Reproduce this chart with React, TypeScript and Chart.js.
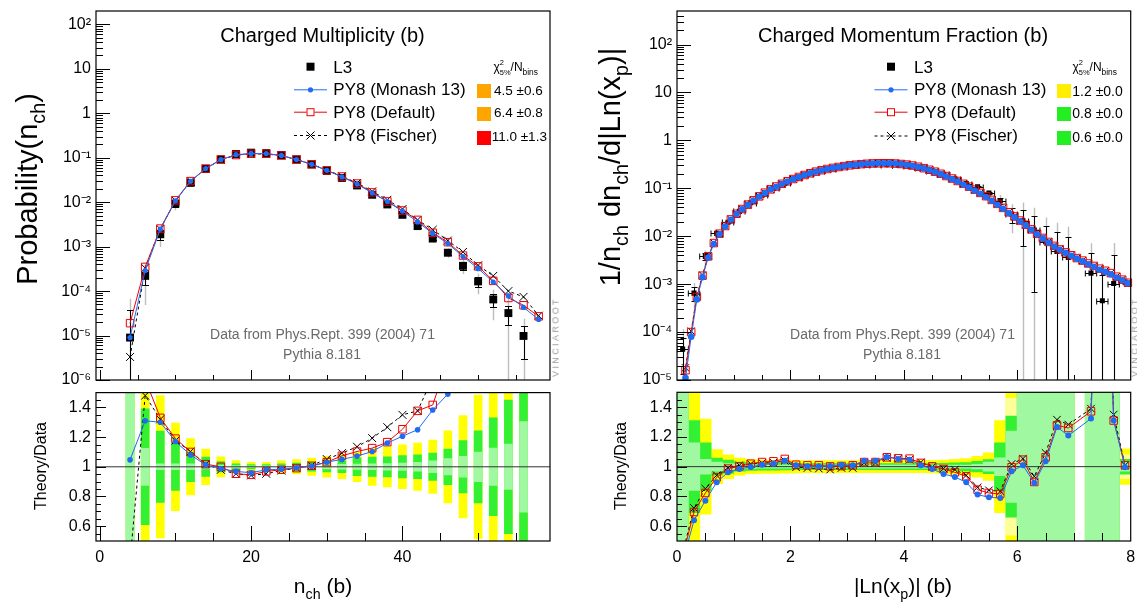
import React, { useEffect, useRef } from 'react';
import { Chart, registerables } from 'chart.js';

Chart.register(...registerables);

const FONT = '"Liberation Sans", Arial, Helvetica, sans-serif';
const BLUE = '#1f6cf2';
const RED = '#f00000';
const YELLOW = '#ffff00';
const GREEN = '#33f033';
const LGREEN = '#a0f8a0';
const LYELLOW = '#ffff9a';
const GREYERR = '#bdbdbd';

// ---------------- Left panel: charged multiplicity ----------------
const multNch = [4, 6, 8, 10, 12, 14, 16, 18, 20, 22, 24, 26, 28, 30, 32, 34, 36, 38, 40, 42, 44, 46, 48, 50, 52, 54, 56];
const l3Mult = [9.0e-6, 2.2e-4, 1.9e-3, 9.3e-3, 0.0272, 0.056, 0.0915, 0.121, 0.13, 0.127, 0.115, 0.0917, 0.0707, 0.0505, 0.0352, 0.0238, 0.0147, 0.0089, 0.0052, 0.0029, 0.00152, 7.3e-4, 3.7e-4, 1.65e-4, 6.5e-5, 3.2e-5, 9.8e-6];
const l3MultErr1 = [3.2, 0.39, 0.24, 0.16, 0.1, 0.065, 0.035, 0.02, 0.015, 0.015, 0.02, 0.025, 0.03, 0.035, 0.04, 0.06, 0.065, 0.068, 0.075, 0.08, 0.092, 0.12, 0.176, 0.243, 0.33, 0.45, 0.7];
const l3MultErr2 = [6.5, 0.78, 0.48, 0.295, 0.19, 0.12, 0.068, 0.042, 0.03, 0.03, 0.04, 0.048, 0.058, 0.07, 0.08, 0.1, 0.125, 0.135, 0.148, 0.16, 0.18, 0.243, 0.345, 0.484, 0.66, 1.2, 1.45];
const l3MultStat = [1.0, 0.125, 0.02, 0.02, 0.02, 0.015, 0.01, 0.008, 0.006, 0.006, 0.008, 0.01, 0.012, 0.014, 0.016, 0.018, 0.02, 0.022, 0.025, 0.03, 0.04, 0.055, 0.07, 0.1, 0.126, 0.153, 0.305];

const multNchMC = [4, 6, 8, 10, 12, 14, 16, 18, 20, 22, 24, 26, 28, 30, 32, 34, 36, 38, 40, 42, 44, 46, 48, 50, 52, 54, 56, 58];
const monashMult = [9.0e-6, 2.9e-4, 2.47e-3, 0.0107, 0.0294, 0.057, 0.0903, 0.117, 0.125, 0.124, 0.113, 0.091, 0.071, 0.052, 0.037, 0.0255, 0.0162, 0.0103, 0.0063, 0.0036, 0.00198, 0.00117, 6.0e-4, 3.2e-4, 1.6e-4, 7.8e-5, 4.3e-5, 2.3e-5];
const defaultMult = [1.9e-5, 3.5e-4, 2.55e-3, 0.011, 0.0298, 0.057, 0.0915, 0.115, 0.123, 0.123, 0.112, 0.0908, 0.0712, 0.0521, 0.0378, 0.0263, 0.0166, 0.0104, 0.0065, 0.004, 0.00205, 0.00126, 6.3e-4, 3.6e-4, 1.7e-4, 7.0e-5, 4.8e-5, 2.7e-5];
const fischerMult = [3.3e-6, 3.3e-4, 2.5e-3, 0.0109, 0.03, 0.057, 0.0895, 0.115, 0.1225, 0.121, 0.112, 0.0908, 0.0714, 0.0531, 0.0385, 0.027, 0.0175, 0.0113, 0.007, 0.004, 0.0024, 1.37e-3, 7.6e-4, 3.8e-4, 2.2e-4, 1.0e-4, 7.4e-5, 2.8e-5];

const monashMultRatio = [1.047, 1.31, 1.3, 1.17, 1.08, 1.013, 0.987, 0.969, 0.96, 0.98, 0.984, 0.993, 1.004, 1.031, 1.05, 1.072, 1.103, 1.16, 1.206, 1.25, 1.383, 1.49, 1.62, 1.94, 2.46, 2.44, 4.4];
const defaultMultRatio = [2.1, 1.59, 1.33, 1.19, 1.1, 1.018, 1.0, 0.953, 0.946, 0.969, 0.98, 0.991, 1.007, 1.031, 1.074, 1.103, 1.126, 1.166, 1.253, 1.377, 1.417, 1.72, 1.7, 2.2, 2.6, 2.2, 4.9];
const fischerMultRatio = [0.37, 1.48, 1.32, 1.177, 1.103, 1.018, 0.98, 0.953, 0.942, 0.953, 0.975, 0.991, 1.009, 1.052, 1.092, 1.135, 1.193, 1.267, 1.35, 1.377, 1.6, 1.88, 2.05, 2.3, 3.4, 3.1, 7.5];

const multXRange = [-0.5, 59.5];
const multXTicks = [0, 20, 40];
const multXTickLabels = ['0', '20', '40'];
const multXMinor = [5, 10, 15, 25, 30, 35, 45, 50, 55];
const multYTicks = [1e-6, 1e-5, 1e-4, 1e-3, 1e-2, 1e-1, 1, 10, 100];
const multYTickLabels = ['10⁻⁶', '10⁻⁵', '10⁻⁴', '10⁻³', '10⁻²', '10⁻¹', '1', '10', '10²'];

// ---------------- Right panel: charged momentum fraction ----------------
const xpMC = [0.05, 0.15, 0.25, 0.35, 0.45, 0.55, 0.65, 0.75, 0.85, 0.95, 1.05, 1.15, 1.25, 1.35, 1.45, 1.55, 1.65, 1.75, 1.85, 1.95, 2.05, 2.15, 2.25, 2.35, 2.45, 2.55, 2.65, 2.75, 2.85, 2.95, 3.05, 3.15, 3.25, 3.35, 3.45, 3.55, 3.65, 3.75, 3.85, 3.95, 4.05, 4.15, 4.25, 4.35, 4.45, 4.55, 4.65, 4.75, 4.85, 4.95, 5.05, 5.15, 5.25, 5.35, 5.45, 5.55, 5.65, 5.75, 5.85, 5.95, 6.05, 6.15, 6.25, 6.35, 6.45, 6.55, 6.65, 6.75, 6.85, 6.95, 7.05, 7.15, 7.25, 7.35, 7.45, 7.55, 7.65, 7.75, 7.85, 7.95];
const monashXp = [1.5e-6, 1.1e-5, 8.0e-5, 4.8e-4, 1.4e-3, 3.6e-3, 6.9e-3, 0.011, 0.016, 0.022, 0.029, 0.0365, 0.045, 0.0555, 0.067, 0.08, 0.094, 0.108, 0.123, 0.139, 0.155, 0.172, 0.189, 0.205, 0.222, 0.238, 0.252, 0.266, 0.279, 0.291, 0.302, 0.311, 0.319, 0.325, 0.33, 0.332, 0.333, 0.332, 0.328, 0.32, 0.31, 0.296, 0.279, 0.26, 0.24, 0.218, 0.197, 0.176, 0.156, 0.138, 0.12, 0.104, 0.09, 0.077, 0.066, 0.055, 0.0455, 0.0375, 0.0305, 0.025, 0.0205, 0.0168, 0.0136, 0.011, 0.009, 0.0074, 0.0061, 0.0052, 0.0045, 0.0039, 0.0034, 0.003, 0.0026, 0.0023, 0.002, 0.0018, 0.0016, 0.00138, 0.0012, 0.00104];
const defaultXp = [3e-6, 1.6e-5, 1.0e-4, 5.4e-4, 1.5e-3, 3.8e-3, 7.2e-3, 0.0113, 0.0163, 0.0224, 0.0294, 0.0369, 0.0456, 0.0562, 0.0678, 0.081, 0.095, 0.109, 0.124, 0.14, 0.156, 0.1725, 0.1895, 0.2055, 0.2225, 0.2385, 0.2525, 0.266, 0.2785, 0.2905, 0.3015, 0.3105, 0.3185, 0.3245, 0.3295, 0.3318, 0.333, 0.3322, 0.3285, 0.321, 0.3115, 0.298, 0.2815, 0.263, 0.2435, 0.222, 0.201, 0.18, 0.16, 0.142, 0.124, 0.108, 0.0935, 0.08, 0.0685, 0.0572, 0.0473, 0.039, 0.0316, 0.0258, 0.0212, 0.0173, 0.0139, 0.0112, 0.0092, 0.0076, 0.0063, 0.0053, 0.0046, 0.004, 0.0035, 0.0031, 0.0027, 0.0024, 0.0021, 0.0019, 0.0017, 0.00143, 0.00124, 0.00107];
const fischerXp = [3.5e-6, 1.8e-5, 1.05e-4, 5.6e-4, 1.55e-3, 3.9e-3, 7.3e-3, 0.0114, 0.0164, 0.0225, 0.0295, 0.0369, 0.0455, 0.056, 0.0676, 0.0806, 0.0945, 0.1085, 0.1232, 0.1385, 0.1545, 0.1712, 0.188, 0.204, 0.2208, 0.2368, 0.251, 0.2648, 0.2776, 0.2896, 0.3006, 0.3098, 0.318, 0.3242, 0.3293, 0.3316, 0.3328, 0.332, 0.3282, 0.3208, 0.3113, 0.298, 0.2815, 0.2632, 0.2437, 0.2222, 0.2014, 0.1806, 0.1608, 0.1428, 0.125, 0.1088, 0.0942, 0.0806, 0.069, 0.0576, 0.0476, 0.0392, 0.0318, 0.026, 0.0213, 0.0174, 0.014, 0.0113, 0.0093, 0.0077, 0.0064, 0.0054, 0.0046, 0.004, 0.0035, 0.0031, 0.0027, 0.0024, 0.0021, 0.0019, 0.0017, 0.00144, 0.00125, 0.00108];

const xpData = [0.1, 0.3, 0.5, 0.7, 0.9, 1.1, 1.3, 1.5, 1.7, 1.9, 2.1, 2.3, 2.5, 2.7, 2.9, 3.1, 3.3, 3.5, 3.7, 3.9, 4.1, 4.3, 4.5, 4.7, 4.9, 5.1, 5.3, 5.5, 5.7, 5.9, 6.1, 6.3, 6.5, 6.7, 6.9, 7.3, 7.5, 7.7, 7.9];
const l3Xp = [4.4e-5, 6.5e-4, 3.8e-3, 0.0115, 0.0195, 0.033, 0.05, 0.072, 0.099, 0.126, 0.162, 0.197, 0.23, 0.258, 0.281, 0.304, 0.311, 0.318, 0.313, 0.308, 0.289, 0.266, 0.231, 0.195, 0.157, 0.125, 0.108, 0.08, 0.055, 0.029, 0.021, 0.0135, 0.0077, 0.0048, 0.0036, 0.0017, 4.5e-4, 1.03e-3, 0.0011];
const l3XpErr1 = [0.7, 0.31, 0.16, 0.058, 0.045, 0.03, 0.025, 0.023, 0.023, 0.022, 0.021, 0.02, 0.02, 0.02, 0.02, 0.02, 0.02, 0.02, 0.02, 0.02, 0.02, 0.02, 0.021, 0.023, 0.025, 0.028, 0.035, 0.047, 0.16, 0.34, 0.7, 0.95, 1.1, 1.5, 1.7, 1.6, 2.5, 3.0, 0.05];
const l3XpErr2 = [1.6, 0.62, 0.32, 0.115, 0.08, 0.058, 0.048, 0.045, 0.045, 0.044, 0.042, 0.04, 0.04, 0.04, 0.04, 0.04, 0.04, 0.04, 0.04, 0.04, 0.04, 0.04, 0.042, 0.045, 0.05, 0.055, 0.07, 0.093, 0.31, 0.6, 1.4, 1.9, 2.2, 3.0, 3.4, 3.2, 5.0, 6.0, 0.12];
const l3XpStat = [0.6, 0.16, 0.05, 0.03, 0.02, 0.015, 0.012, 0.01, 0.01, 0.01, 0.01, 0.01, 0.01, 0.01, 0.01, 0.01, 0.01, 0.01, 0.01, 0.01, 0.01, 0.01, 0.01, 0.01, 0.01, 0.01, 0.015, 0.03, 0.06, 0.24, 0.6, 0.7, 0.8, 1.0, 1.1, 1.0, 1.5, 2.0, 0.03];
const l3XpStat2 = [0, 0, 0, 0, 0, 0, 0, 0, 0, 0, 0, 0, 0, 0, 0, 0, 0, 0, 0, 0, 0, 0, 0, 0, 0, 0, 0, 0, 0, 0.46, 0, 0, 0, 0, 0, 0, 0, 0, 0.08];

const monashXpRatio = [0.36, 0.639, 0.771, 0.895, 0.962, 0.984, 0.998, 1.013, 1.022, 1.04, 1.009, 1.002, 1.002, 1.004, 1.013, 1.009, 1.04, 1.04, 1.065, 1.052, 1.047, 1.009, 0.984, 0.951, 0.93, 0.895, 0.812, 0.794, 0.789, 0.969, 1.009, 0.89, 1.036, 1.267, 1.209, 1.323, 3.5, 1.31, 0.996];
const defaultXpRatio = [0.4, 0.695, 0.823, 0.928, 0.987, 1.002, 1.02, 1.031, 1.036, 1.052, 1.013, 1.009, 1.009, 1.002, 1.004, 1.009, 1.031, 1.031, 1.063, 1.056, 1.054, 1.025, 1.002, 0.984, 0.962, 0.935, 0.845, 0.823, 0.816, 0.996, 1.047, 0.897, 1.063, 1.278, 1.26, 1.372, 3.6, 1.31, 1.009];
const fischerXpRatio = [0.42, 0.722, 0.852, 0.942, 0.991, 1.009, 1.018, 1.025, 1.027, 1.04, 0.996, 0.991, 0.987, 0.98, 0.991, 0.991, 1.025, 1.025, 1.058, 1.054, 1.047, 1.029, 0.998, 0.987, 0.98, 0.942, 0.861, 0.841, 0.834, 1.018, 1.054, 0.935, 1.092, 1.316, 1.283, 1.39, 3.6, 1.35, 1.009];

const xpXRange = [0, 8];
const xpXTicks = [0, 2, 4, 6, 8];
const xpXTickLabels = ['0', '2', '4', '6', '8'];
const xpXMajorMarks = [2, 4, 6];
const xpXMinor = [0.5, 1, 1.5, 2.5, 3, 3.5, 4.5, 5, 5.5, 6.5, 7, 7.5];
const xpYTicks = [1e-5, 1e-4, 1e-3, 1e-2, 1e-1, 1, 10, 100];
const xpYTickLabels = ['10⁻⁵', '10⁻⁴', '10⁻³', '10⁻²', '10⁻¹', '1', '10', '10²'];

const ratioYTicks = [0.6, 0.8, 1, 1.2, 1.4];
const ratioYTickLabels = ['0.6', '0.8', '1', '1.2', '1.4'];
const ratioYMinor = [0.55, 0.65, 0.7, 0.75, 0.85, 0.9, 0.95, 1.05, 1.1, 1.15, 1.25, 1.3, 1.35, 1.45];
const unity = [1, 1];

// ---------------- helpers ----------------
const pts = (xs: number[], ys: number[]) => xs.map((x, i) => ({ x, y: ys[i] }));
const logMinor = (lo: number, hi: number) => {
  const out: number[] = [];
  for (let e = Math.floor(Math.log10(lo)); e <= Math.ceil(Math.log10(hi)); e++) {
    for (let k = 2; k <= 9; k++) {
      const v = k * Math.pow(10, e);
      if (v > lo && v < hi) out.push(v);
    }
  }
  return out;
};

const framePlugin = {
  id: 'rootFrame',
  afterDraw(chart: any, _a: any, o: any) {
    if (!o || !o.on) return;
    const { ctx, chartArea: a } = chart;
    const xs = chart.scales.x;
    const ys = chart.scales.y;
    ctx.save();
    ctx.strokeStyle = '#000';
    ctx.lineWidth = 1;
    ctx.beginPath();
    const hy = (v: number) => Math.round(ys.getPixelForValue(v)) + 0.5;
    const vx = (v: number) => Math.round(xs.getPixelForValue(v)) + 0.5;
    (o.yMajor || []).forEach((v: number) => { const y = hy(v); ctx.moveTo(a.left, y); ctx.lineTo(a.left + o.yMajorLen, y); });
    (o.yMinor || []).forEach((v: number) => { const y = hy(v); ctx.moveTo(a.left, y); ctx.lineTo(a.left + o.yMinorLen, y); });
    (o.xMajor || []).forEach((v: number) => { const x = vx(v); ctx.moveTo(x, a.bottom); ctx.lineTo(x, a.bottom - o.xMajorLen); });
    (o.xMinor || []).forEach((v: number) => { const x = vx(v); ctx.moveTo(x, a.bottom); ctx.lineTo(x, a.bottom - o.xMinorLen); });
    ctx.stroke();
    ctx.lineWidth = 1.2;
    ctx.strokeRect(a.left, a.top, a.right - a.left, a.bottom - a.top);
    ctx.restore();
  },
};

const errorPlugin = {
  id: 'rootErrors',
  beforeDatasetsDraw(chart: any, _a: any, o: any) {
    if (!o || !o.xs) return;
    const { ctx, chartArea: a } = chart;
    const xS = chart.scales.x;
    const yS = chart.scales.y;
    const bottom = a.bottom + 2;
    const py = (v: number) => (v > 0 ? Math.min(yS.getPixelForValue(v), bottom) : bottom);
    ctx.save();
    ctx.beginPath();
    ctx.rect(a.left, a.top, a.right - a.left, a.bottom - a.top);
    ctx.clip();
    ctx.strokeStyle = GREYERR;
    ctx.lineWidth = 1.4;
    ctx.beginPath();
    o.xs.forEach((xv: number, i: number) => {
      const v = o.ys[i];
      const e = v * o.err2[i];
      const px = Math.round(xS.getPixelForValue(xv)) + 0.5;
      ctx.moveTo(px, py(v + e));
      ctx.lineTo(px, py(v - e));
    });
    ctx.stroke();
    ctx.strokeStyle = '#000';
    ctx.lineWidth = 1;
    ctx.beginPath();
    o.xs.forEach((xv: number, i: number) => {
      const v = o.ys[i];
      const e = v * o.err1[i];
      const px = Math.round(xS.getPixelForValue(xv)) + 0.5;
      const yt = Math.round(py(v + e)) + 0.5;
      const yb = Math.round(py(v - e)) + 0.5;
      ctx.moveTo(px, yt);
      ctx.lineTo(px, yb);
      ctx.moveTo(px - o.cap, yt);
      ctx.lineTo(px + o.cap, yt);
      if (v - e > 0) { ctx.moveTo(px - o.cap, yb); ctx.lineTo(px + o.cap, yb); }
      if (o.xHalf) {
        const yc = Math.round(yS.getPixelForValue(v)) + 0.5;
        const xl = xS.getPixelForValue(xv - o.xHalf);
        const xr = xS.getPixelForValue(xv + o.xHalf);
        ctx.moveTo(xl, yc); ctx.lineTo(xr, yc);
        ctx.moveTo(xl, yc - 3); ctx.lineTo(xl, yc + 3);
        ctx.moveTo(xr, yc - 3); ctx.lineTo(xr, yc + 3);
      }
    });
    ctx.stroke();
    ctx.restore();
  },
};

const legendPlugin = {
  id: 'rootLegend',
  afterDatasetsDraw(chart: any, _a: any, o: any) {
    if (!o || o.cx === undefined) return;
    const ctx = chart.ctx;
    const cx = o.cx - o.offX;
    const [r0, r1, r2, r3] = o.rows;
    const x0 = cx - 16.5;
    const x1 = cx + 16.5;
    ctx.save();
    ctx.fillStyle = '#000';
    ctx.fillRect(cx - 4, r0 - 4, 8, 8);
    ctx.lineWidth = 1;
    ctx.strokeStyle = BLUE;
    ctx.beginPath(); ctx.moveTo(x0, r1 + 0.5); ctx.lineTo(x1, r1 + 0.5); ctx.stroke();
    ctx.fillStyle = BLUE;
    ctx.beginPath(); ctx.arc(cx, r1 + 0.5, 2.6, 0, Math.PI * 2); ctx.fill();
    ctx.strokeStyle = RED;
    ctx.beginPath(); ctx.moveTo(x0, r2 + 0.5); ctx.lineTo(cx - 4, r2 + 0.5); ctx.moveTo(cx + 4, r2 + 0.5); ctx.lineTo(x1, r2 + 0.5); ctx.stroke();
    ctx.strokeRect(cx - 3.5, r2 - 3, 7, 7);
    ctx.strokeStyle = '#000';
    ctx.setLineDash([3, 3]);
    ctx.beginPath(); ctx.moveTo(x0, r3 + 0.5); ctx.lineTo(x1, r3 + 0.5); ctx.stroke();
    ctx.setLineDash([]);
    ctx.beginPath();
    ctx.moveTo(cx - 4, r3 - 3.5); ctx.lineTo(cx + 4, r3 + 4.5);
    ctx.moveTo(cx + 4, r3 - 3.5); ctx.lineTo(cx - 4, r3 + 4.5);
    ctx.stroke();
    ctx.restore();
  },
};

const tickFont = { family: FONT, size: 16 };

const yAxis = (base: any, width: number, ticks: number[], labels: string[]) => ({
  ...base,
  position: 'left',
  afterBuildTicks: (s: any) => { s.ticks = ticks.map((v) => ({ value: v })); },
  afterFit: (s: any) => { s.width = width; s.paddingTop = 0; s.paddingBottom = 0; },
  grid: { display: false, drawTicks: false },
  border: { display: false },
  ticks: { autoSkip: false, padding: 5, color: '#000', font: tickFont, callback: (_v: any, i: number) => labels[i] },
});

const xAxisHidden = (range: number[]) => ({ type: 'linear', min: range[0], max: range[1], display: false, offset: false });

const xAxisShown = (range: number[], height: number, ticks: number[], labels: string[]) => ({
  type: 'linear', min: range[0], max: range[1], offset: false, position: 'bottom',
  afterBuildTicks: (s: any) => { s.ticks = ticks.map((v) => ({ value: v })); },
  afterFit: (s: any) => { s.height = height; s.paddingLeft = 0; s.paddingRight = 0; },
  grid: { display: false, drawTicks: false, offset: false },
  border: { display: false },
  ticks: { autoSkip: false, maxRotation: 0, minRotation: 0, padding: 7, color: '#000', font: tickFont, callback: (_v: any, i: number) => labels[i] },
});

const CLIPR = { left: 8, right: 8, top: 0, bottom: 0 };

const mcSets = (xs: number[], mon: number[], def: number[], fis: number[], sz: any) => [
  { type: 'line', label: 'PY8 (Monash 13)', data: pts(xs, mon), borderColor: BLUE, borderWidth: 1, pointStyle: 'circle', pointRadius: sz.blue, pointBackgroundColor: BLUE, pointBorderColor: BLUE, pointBorderWidth: 0, order: 0, clip: CLIPR },
  { type: 'line', label: 'PY8 (Default)', data: pts(xs, def), borderColor: RED, borderWidth: 1, pointStyle: 'rect', pointRadius: sz.red, pointBackgroundColor: 'rgba(255,0,0,0)', pointBorderColor: RED, pointBorderWidth: 1, order: 1, clip: CLIPR },
  { type: 'line', label: 'PY8 (Fischer)', data: pts(xs, fis), borderColor: '#000', borderWidth: 1, borderDash: [3, 3], pointStyle: 'crossRot', pointRadius: sz.x, pointBorderColor: '#000', pointBorderWidth: 1, order: 2, clip: CLIPR },
];

const bandSet = (xs: number[], rel: number[], color: string, order: number, thick: number) => ({
  type: 'bar',
  data: xs.map((x, i) => ({ x, y: [1 - rel[i], 1 + rel[i]] })).filter((_d, i) => rel[i] > 0),
  backgroundColor: color, borderWidth: 0, grouped: false, order, barThickness: thick,
});

const baseOptions = (padding: any) => ({
  responsive: false,
  animation: false,
  devicePixelRatio: 1,
  events: [],
  layout: { padding },
});

// ---------------- chart configs ----------------
const makeMultMain = () => ({
  type: 'line',
  data: {
    datasets: [
      ...mcSets(multNchMC, monashMult, defaultMult, fischerMult, { blue: 2.6, red: 5.3, x: 5.6 }),
      { type: 'line', label: 'L3', data: pts(multNch, l3Mult), showLine: false, pointStyle: 'rect', pointRadius: 5.6, pointBackgroundColor: '#000', pointBorderColor: '#000', pointBorderWidth: 0, order: 3 },
    ],
  },
  options: {
    ...baseOptions({ left: 0, top: 11, right: 20, bottom: 12 }),
    scales: {
      x: xAxisHidden(multXRange),
      y: yAxis({ type: 'logarithmic', min: 1e-6, max: 200 }, 96, multYTicks, multYTickLabels),
    },
    plugins: {
      legend: { display: false }, tooltip: { enabled: false },
      rootFrame: { on: true, yMajor: multYTicks, yMinor: logMinor(1e-6, 200), yMajorLen: 14, yMinorLen: 7, xMajor: multXTicks, xMinor: multXMinor, xMajorLen: 10, xMinorLen: 5 },
      rootErrors: { xs: multNch, ys: l3Mult, err1: l3MultErr1, err2: l3MultErr2, cap: 3.5 },
      rootLegend: { cx: 310.5, offX: 0, rows: [66.7, 89.3, 111.7, 135] },
    },
  },
  plugins: [errorPlugin, legendPlugin, framePlugin],
});

const makeMultRatio = () => ({
  type: 'bar',
  data: {
    datasets: [
      bandSet(multNch, l3MultErr2, YELLOW, 9, 8),
      bandSet(multNch, l3MultErr1, GREEN, 8, 8),
      bandSet(multNch, l3MultStat, LGREEN, 7, 8),
      { type: 'line', data: pts(multXRange, unity), borderColor: '#333', borderWidth: 1, pointRadius: 0, order: 5 },
      ...mcSets(multNch, monashMultRatio, defaultMultRatio, fischerMultRatio, { blue: 2.8, red: 5.3, x: 5.6 }),
    ],
  },
  options: {
    ...baseOptions({ left: 0, top: 6, right: 20, bottom: 0 }),
    scales: {
      x: xAxisShown(multXRange, 70, multXTicks, multXTickLabels),
      y: yAxis({ type: 'linear', min: 0.5, max: 1.5 }, 96, ratioYTicks, ratioYTickLabels),
    },
    plugins: {
      legend: { display: false }, tooltip: { enabled: false },
      rootFrame: { on: true, yMajor: ratioYTicks, yMinor: ratioYMinor, yMajorLen: 10, yMinorLen: 5, xMajor: multXTicks, xMinor: multXMinor, xMajorLen: 15, xMinorLen: 8 },
    },
  },
  plugins: [framePlugin],
});

const makeXpMain = () => ({
  type: 'line',
  data: {
    datasets: [
      ...mcSets(xpMC, monashXp, defaultXp, fischerXp, { blue: 3.3, red: 5.3, x: 5 }),
      { type: 'line', label: 'L3', data: pts(xpData, l3Xp), showLine: false, pointStyle: 'rect', pointRadius: 3.6, pointBackgroundColor: '#000', pointBorderColor: '#000', pointBorderWidth: 0, order: 3 },
    ],
  },
  options: {
    ...baseOptions({ left: 0, top: 11, right: 6, bottom: 12 }),
    scales: {
      x: xAxisHidden(xpXRange),
      y: yAxis({ type: 'logarithmic', min: 1e-5, max: 500 }, 97, xpYTicks, xpYTickLabels),
    },
    plugins: {
      legend: { display: false }, tooltip: { enabled: false },
      rootFrame: { on: true, yMajor: xpYTicks, yMinor: logMinor(1e-5, 500), yMajorLen: 14, yMinorLen: 7, xMajor: xpXMajorMarks, xMinor: xpXMinor, xMajorLen: 10, xMinorLen: 5 },
      rootErrors: { xs: xpData, ys: l3Xp, err1: l3XpErr1, err2: l3XpErr2, cap: 3, xHalf: 0.1 },
      rootLegend: { cx: 891, offX: 580, rows: [66.7, 89.3, 111.7, 135.5] },
    },
  },
  plugins: [errorPlugin, legendPlugin, framePlugin],
});

const makeXpRatio = () => ({
  type: 'bar',
  data: {
    datasets: [
      bandSet(xpData, l3XpErr2, YELLOW, 10, 11.6),
      bandSet(xpData, l3XpStat2, LYELLOW, 9, 11.6),
      bandSet(xpData, l3XpErr1, GREEN, 8, 11.6),
      bandSet(xpData, l3XpStat, LGREEN, 7, 11.6),
      { type: 'line', data: pts(xpXRange, unity), borderColor: '#333', borderWidth: 1, pointRadius: 0, order: 5 },
      ...mcSets(xpData, monashXpRatio, defaultXpRatio, fischerXpRatio, { blue: 3, red: 5.3, x: 5.3 }),
    ],
  },
  options: {
    ...baseOptions({ left: 0, top: 6, right: 6, bottom: 0 }),
    scales: {
      x: xAxisShown(xpXRange, 70, xpXTicks, xpXTickLabels),
      y: yAxis({ type: 'linear', min: 0.5, max: 1.5 }, 97, ratioYTicks, ratioYTickLabels),
    },
    plugins: {
      legend: { display: false }, tooltip: { enabled: false },
      rootFrame: { on: true, yMajor: ratioYTicks, yMinor: ratioYMinor, yMajorLen: 10, yMinorLen: 5, xMajor: xpXMajorMarks, xMinor: xpXMinor, xMajorLen: 15, xMinorLen: 8 },
    },
  },
  plugins: [framePlugin],
});

// ---------------- components ----------------
function ChartCanvas({ left, top, width, height, make }: any) {
  const ref = useRef<HTMLCanvasElement>(null);
  useEffect(() => {
    const chart = new Chart(ref.current as HTMLCanvasElement, make() as any);
    return () => chart.destroy();
  }, []);
  return <canvas ref={ref} width={width} height={height} style={{ position: 'absolute', left, top, width, height }} />;
}

function Txt({ x, y, size, align = 'center', rot = false, color = '#000', ls, children }: any) {
  const tx = align === 'left' ? '0%' : align === 'right' ? '-100%' : '-50%';
  return (
    <div style={{ position: 'absolute', left: x, top: y, fontFamily: FONT, fontSize: size, lineHeight: 1, color, whiteSpace: 'nowrap', letterSpacing: ls, transform: `translate(${tx}, -50%)${rot ? ' rotate(-90deg)' : ''}` }}>
      {children}
    </div>
  );
}

const Sub = ({ t }: any) => <span style={{ fontSize: '0.68em', position: 'relative', top: '0.42em' }}>{t}</span>;

function Chi2Head({ x }: any) {
  return (
    <Txt x={x} y={67} size={12} align="left">
      χ<span style={{ fontSize: '0.62em', position: 'relative', top: '-0.75em' }}>2</span>
      <span style={{ fontSize: '0.62em', position: 'relative', top: '0.6em', marginLeft: '-0.556em' }}>5%</span>
      /N<span style={{ fontSize: '0.7em', position: 'relative', top: '0.45em' }}>bins</span>
    </Txt>
  );
}

const Box = ({ x, y, color }: any) => <div style={{ position: 'absolute', left: x, top: y, width: 13.5, height: 13.5, background: color }} />;

const legendLabels = ['L3', 'PY8 (Monash 13)', 'PY8 (Default)', 'PY8 (Fischer)'];
const legendRows = [66.7, 89.3, 111.7, 135];
const chiMult = ['4.5 ±0.6', '6.4 ±0.8', '11.0 ±1.3'];
const chiMultColors = ['#ffa500', '#ffa500', '#ff0000'];
const chiXp = ['1.2 ±0.0', '0.8 ±0.0', '0.6 ±0.0'];
const chiXpColors = ['#ffee00', '#22ee22', '#22ee22'];
const chiRows = [90.7, 113.3, 137];
const chiBoxTops = [84, 107, 131];

export default function App() {
  return (
    <div style={{ position: 'absolute', left: 0, top: 0, width: 1137, height: 611, background: '#fff', overflow: 'hidden' }}>
      <ChartCanvas left={0} top={0} width={570} height={392} make={makeMultMain} />
      <ChartCanvas left={0} top={386} width={570} height={225} make={makeMultRatio} />
      <ChartCanvas left={580} top={0} width={557} height={392} make={makeXpMain} />
      <ChartCanvas left={580} top={386} width={557} height={225} make={makeXpRatio} />

      <Txt x={322.5} y={35} size={20}>Charged Multiplicity (b)</Txt>
      <Txt x={903} y={35} size={20}>Charged Momentum Fraction (b)</Txt>

      {legendLabels.map((t, i) => (
        <Txt key={'l' + i} x={333.3} y={legendRows[i]} size={17} align="left">{t}</Txt>
      ))}
      {legendLabels.map((t, i) => (
        <Txt key={'r' + i} x={914} y={legendRows[i]} size={17} align="left">{t}</Txt>
      ))}

      <Chi2Head x={493.5} />
      <Chi2Head x={1072.5} />
      {chiMult.map((t, i) => <Box key={'bm' + i} x={477} y={chiBoxTops[i]} color={chiMultColors[i]} />)}
      {chiXp.map((t, i) => <Box key={'bx' + i} x={1057.3} y={chiBoxTops[i]} color={chiXpColors[i]} />)}
      {chiMult.map((t, i) => <Txt key={'tm' + i} x={i === 2 ? 491.7 : 494} y={chiRows[i]} size={13.5} align="left">{t}</Txt>)}
      {chiXp.map((t, i) => <Txt key={'tx' + i} x={1072.3} y={chiRows[i]} size={14} align="left">{t}</Txt>)}

      <Txt x={322.5} y={334} size={14} color="#6a6a6a">Data from Phys.Rept. 399 (2004) 71</Txt>
      <Txt x={322} y={354} size={14} color="#6a6a6a">Pythia 8.181</Txt>
      <Txt x={902.5} y={334} size={14} color="#6a6a6a">Data from Phys.Rept. 399 (2004) 71</Txt>
      <Txt x={902} y={354} size={14} color="#6a6a6a">Pythia 8.181</Txt>

      <Txt x={556} y={337} size={9} rot color="#9a9a9a" ls="2.4px">VINCIAROOT</Txt>
      <Txt x={1135} y={337} size={9} rot color="#9a9a9a" ls="2.4px">VINCIAROOT</Txt>

      <Txt x={27} y={189} size={29} rot>Probability(n<Sub t="ch" />)</Txt>
      <Txt x={610} y={167} size={29} rot>1/n<Sub t="ch" /> dn<Sub t="ch" />/d|Ln(x<Sub t="p" />)|</Txt>
      <Txt x={41} y={466} size={16} rot>Theory/Data</Txt>
      <Txt x={621} y={466} size={16} rot>Theory/Data</Txt>
      <Txt x={323} y={585} size={21}>n<Sub t="ch" /> (b)</Txt>
      <Txt x={903} y={585} size={21}>|Ln(x<Sub t="p" />)| (b)</Txt>
    </div>
  );
}
